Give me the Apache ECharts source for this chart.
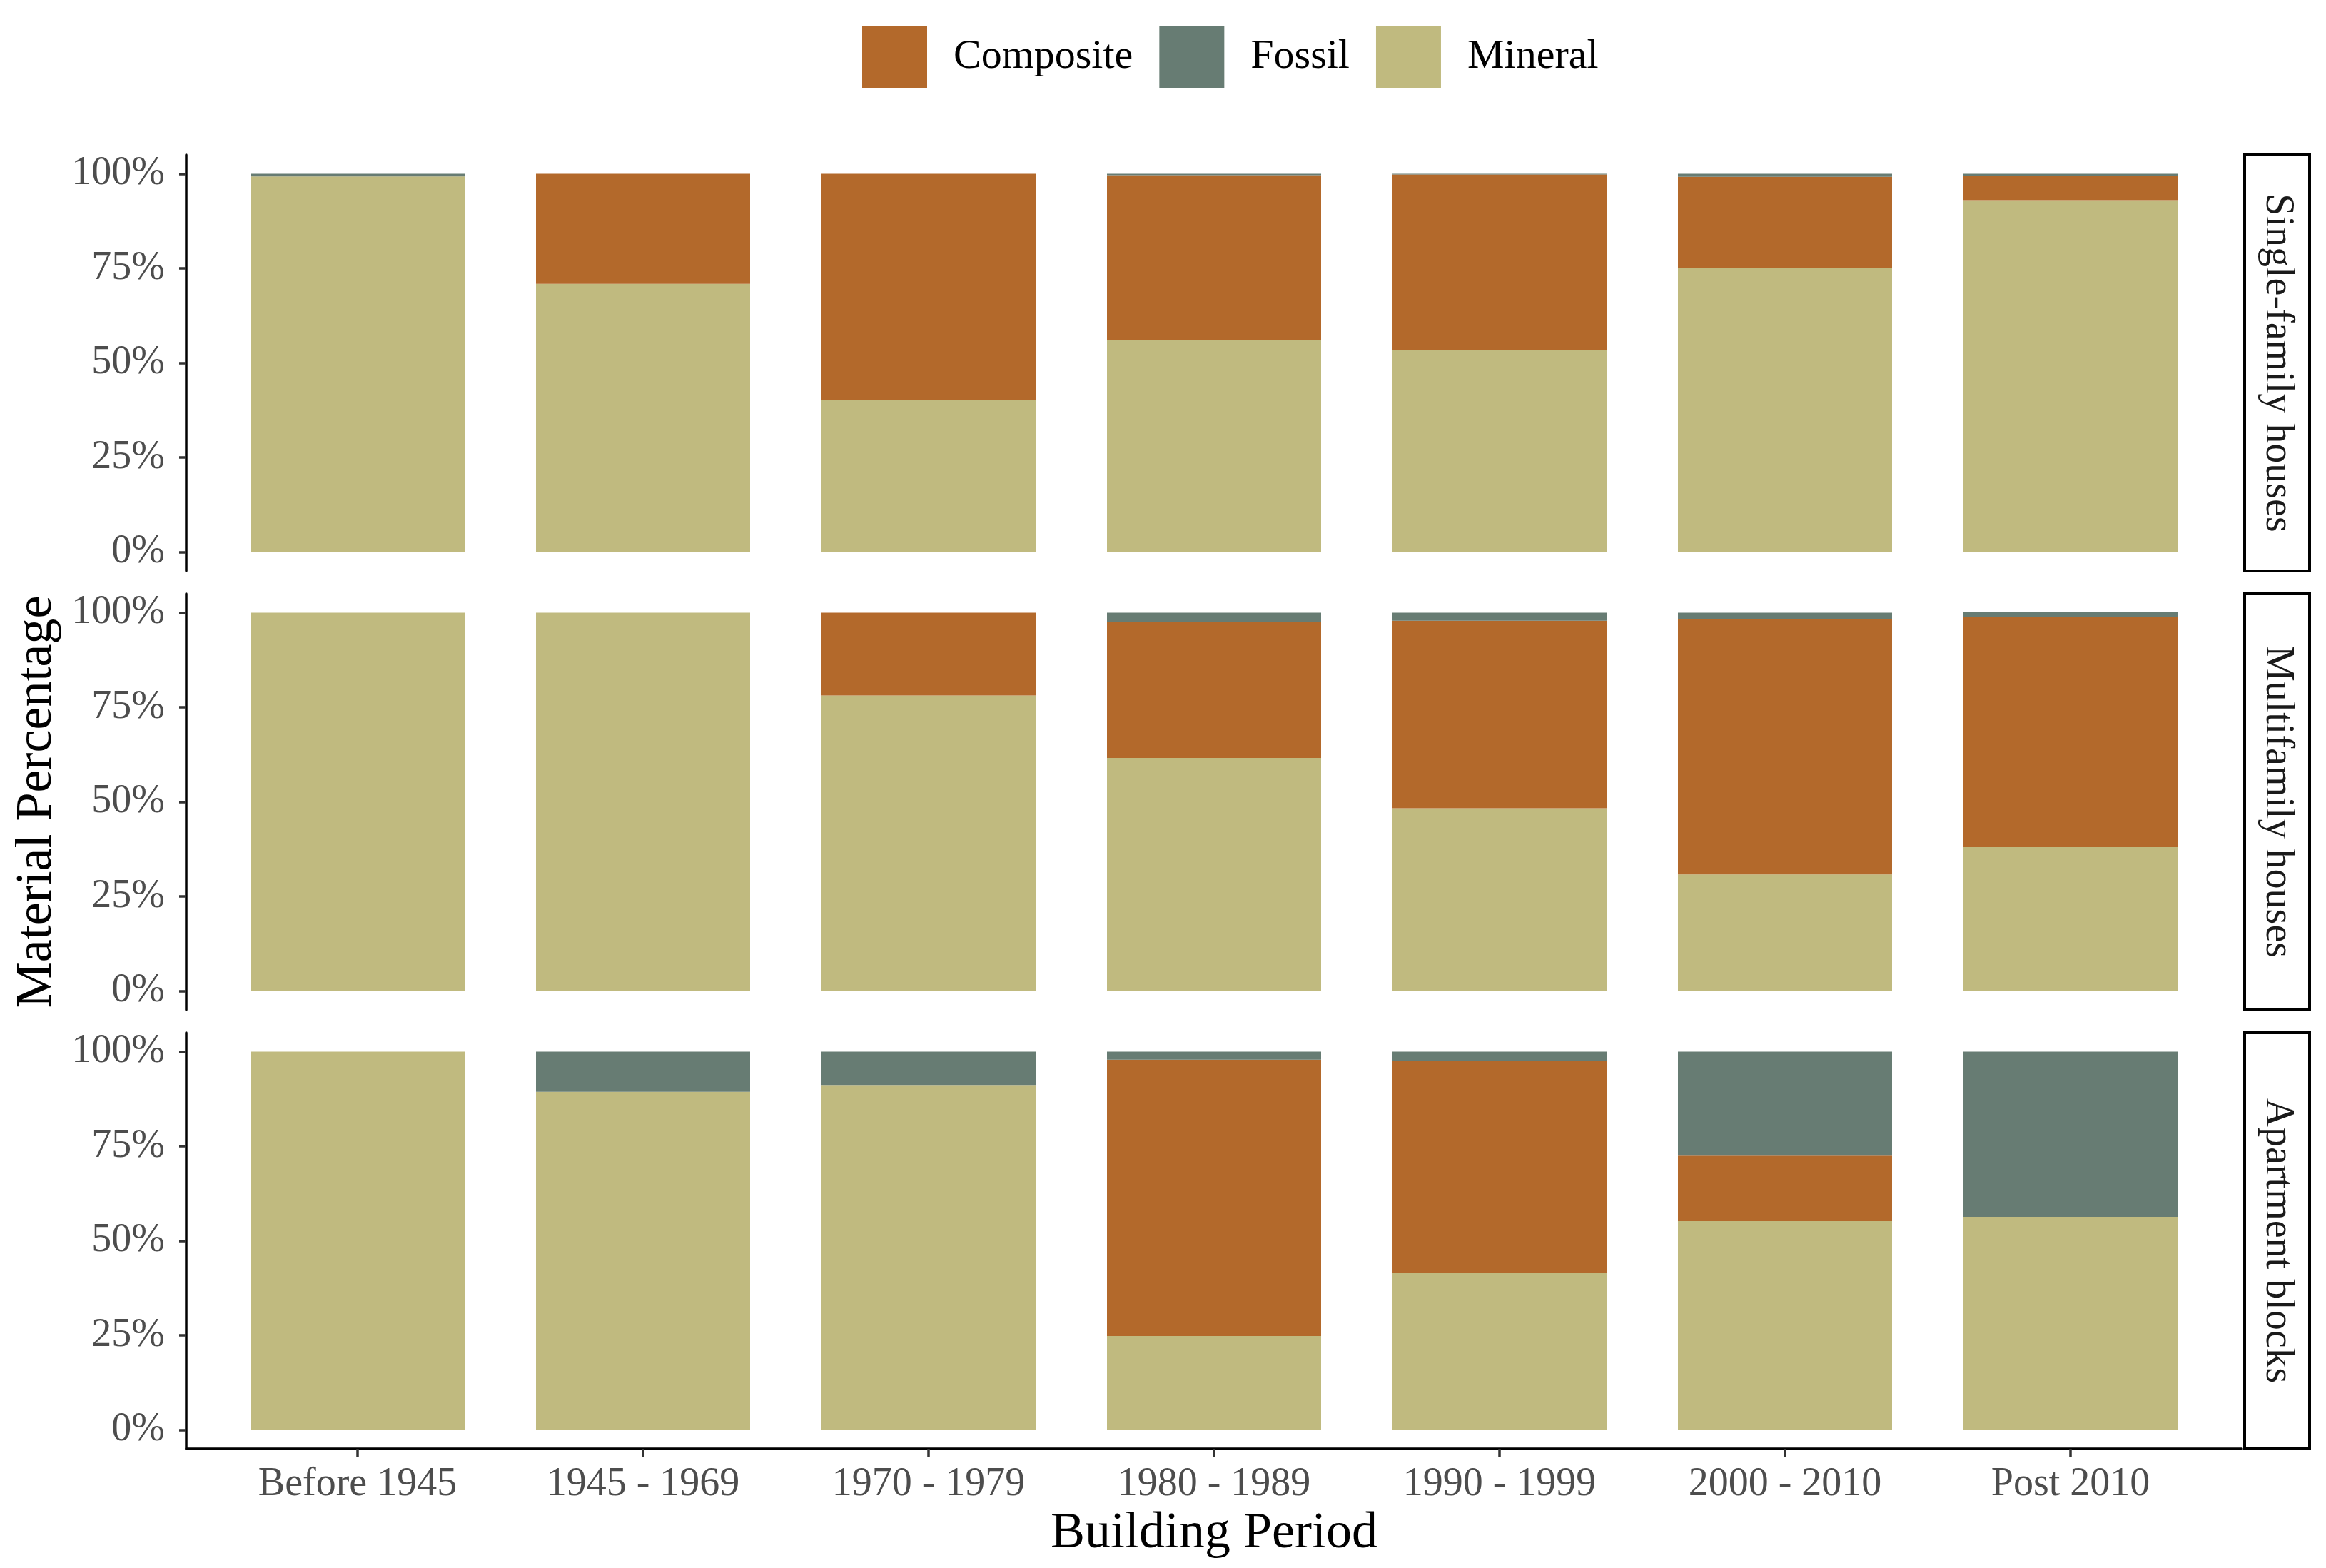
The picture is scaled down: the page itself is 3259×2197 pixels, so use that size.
<!DOCTYPE html>
<html>
<head>
<meta charset="utf-8">
<script src="https://cdn.jsdelivr.net/npm/echarts@6/dist/echarts.min.js"></script>
<style>
html,body{margin:0;padding:0;background:#fff;}
#chart{width:3259px;height:2197px;}
</style>
</head>
<body>
<div id="chart"></div>
<script>
// ---- data ----
const categories = ['Before 1945','1945 - 1969','1970 - 1979','1980 - 1989','1990 - 1999','2000 - 2010','Post 2010'];
const panels = ['Single-family houses','Multifamily houses','Apartment blocks'];
const materials = ['Composite','Fossil','Mineral'];

const mineralSingle    = [99.3, 70.9, 40.1, 56.1, 53.3, 75.2, 93.0];
const compositeSingle  = [0.0,  29.1, 59.9, 43.5, 46.5, 24.0,  6.5];
const fossilSingle     = [0.7,  0.0,  0.0,  0.4,  0.2,  0.8,  0.5];

const mineralMulti     = [100.0, 100.0, 78.1, 61.6, 48.3, 30.8, 38.0];
const compositeMulti   = [0.0,   0.0,  21.9, 36.0, 49.6, 67.6, 60.8];
const fossilMulti      = [0.0,   0.0,   0.0,  2.4,  2.1,  1.6,  1.3];

const mineralApt       = [100.0, 89.4, 91.2, 24.8, 41.4, 55.2, 56.3];
const compositeApt     = [0.0,   0.0,  0.0, 73.1, 56.2, 17.3,  0.0];
const fossilApt        = [0.0,  10.6,  8.8,  2.1,  2.4, 27.5, 43.7];

const yTickValues = [0, 25, 50, 75, 100];
const yTickLabels = ['0%', '25%', '50%', '75%', '100%'];

// ---- styling / layout ----
const colors = {Composite:'#b3692b', Fossil:'#677c73', Mineral:'#c0ba7f'};
const FONT = "'Liberation Serif', 'Times New Roman', serif";
const gridLeft = 261, gridWidth = 2880, gridHeight = 583;
const gridTops = [217, 832, 1447];
const unit = gridWidth / 7.2;               // ggplot discrete expansion 0.6 on each side
const barGridLeft = gridLeft + 0.1 * unit;  // band edges for category axis
const barGridWidth = 7 * unit;
const stripX = 3145, stripW = 91;

const panelData = [
  {Mineral: mineralSingle, Composite: compositeSingle, Fossil: fossilSingle},
  {Mineral: mineralMulti,  Composite: compositeMulti,  Fossil: fossilMulti},
  {Mineral: mineralApt,    Composite: compositeApt,    Fossil: fossilApt}
];

const chart = echarts.init(document.getElementById('chart'), null, {renderer:'canvas'});

const grids = [], xAxes = [], yAxes = [], series = [], graphics = [];
const catIdx = categories.map((c, i) => i);
const n = panels.length;

// frame grids (axes only)
panels.forEach((p, k) => {
  grids.push({left: gridLeft, top: gridTops[k], width: gridWidth, height: gridHeight});
  const isBottom = k === n - 1;
  xAxes.push({
    type: 'value', gridIndex: k, min: -0.6, max: 6.6,
    show: isBottom,
    splitLine: {show: false},
    axisLine: {show: isBottom, onZero: false, lineStyle: {color: '#000', width: 3.5}},
    axisTick: {show: isBottom, customValues: catIdx, length: 11, lineStyle: {color: '#333', width: 3.5}},
    axisLabel: {show: isBottom, customValues: catIdx, margin: 22,
      formatter: v => categories[Math.round(v)] || '',
      fontFamily: FONT, fontSize: 56, color: '#4d4d4d'},
    name: isBottom ? 'Building Period' : '',
    nameLocation: 'middle', nameGap: 83,
    nameTextStyle: {fontFamily: FONT, fontSize: 72, color: '#000'}
  });
  yAxes.push({
    type: 'value', gridIndex: k, min: -5, max: 105,
    splitLine: {show: false},
    axisLine: {show: true, onZero: false, lineStyle: {color: '#000', width: 3.5}},
    axisTick: {show: true, customValues: yTickValues, length: 10, lineStyle: {color: '#333', width: 3.5}},
    axisLabel: {show: true, customValues: yTickValues, margin: 30,
      formatter: v => yTickLabels[yTickValues.indexOf(Math.round(v))] || '',
      fontFamily: FONT, fontSize: 56, color: '#4d4d4d'},
    name: k === 1 ? 'Material Percentage' : '',
    nameLocation: 'middle', nameGap: 173,
    nameTextStyle: {fontFamily: FONT, fontSize: 72, color: '#000'}
  });
  // facet strip
  graphics.push({
    type: 'rect',
    shape: {x: stripX, y: gridTops[k], width: stripW, height: gridHeight},
    style: {fill: '#fff', stroke: '#000', lineWidth: 4}
  });
  graphics.push({
    type: 'text',
    x: stripX + stripW / 2, y: gridTops[k] + gridHeight / 2,
    rotation: -Math.PI / 2,
    style: {text: p, font: '56px ' + FONT, fill: '#1a1a1a',
      align: 'center', verticalAlign: 'middle', textAlign: 'center', textVerticalAlign: 'middle'}
  });
});

// bar grids (category axis, hidden)
panels.forEach((p, k) => {
  const gi = n + k;
  grids.push({left: barGridLeft, top: gridTops[k], width: barGridWidth, height: gridHeight});
  xAxes.push({type: 'category', gridIndex: gi, data: categories, show: false, boundaryGap: true});
  yAxes.push({type: 'value', gridIndex: gi, min: -5, max: 105, show: false, splitLine: {show: false}});
  ['Mineral', 'Composite', 'Fossil'].forEach(m => {
    series.push({
      name: m, type: 'bar', stack: 'panel' + k,
      xAxisIndex: gi, yAxisIndex: gi,
      barWidth: '75%',
      itemStyle: {color: colors[m]},
      emphasis: {disabled: true},
      data: panelData[k][m]
    });
  });
});

chart.setOption({
  animation: false,
  backgroundColor: '#fff',
  legend: {
    data: materials, left: 1203, top: 31,
    icon: 'rect', itemWidth: 91, itemHeight: 87, itemGap: 37,
    textStyle: {fontFamily: FONT, fontSize: 58, color: '#000', padding: [0, 0, 0, 32]},
    selectedMode: false
  },
  grid: grids,
  xAxis: xAxes,
  yAxis: yAxes,
  series: series,
  graphic: graphics
});
</script>
</body>
</html>
